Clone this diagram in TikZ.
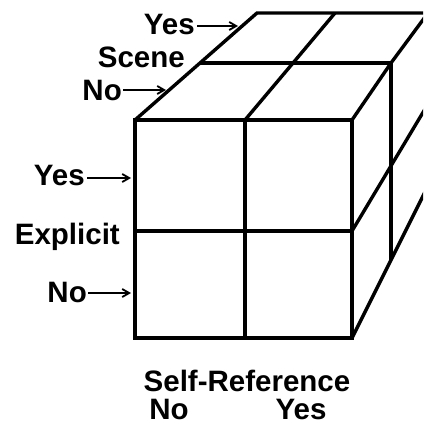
\documentclass[tikz,border=0pt]{standalone}
\usepackage{fontspec}
\setmainfont{Liberation Sans}[BoldFont={Liberation Sans Bold}]
\usetikzlibrary{arrows.meta}
\begin{document}
\begin{tikzpicture}[x=1pt,y=-1pt,
  edge/.style={line width=3.4pt},
  lbl/.style={font=\bfseries\fontsize{29.5}{32}\selectfont, inner sep=0pt},
  pointer/.style={line width=1.8pt,-{Straight Barb[length=7pt,width=8pt,line width=1.8pt]}}]
\useasboundingbox (0,0) rectangle (423,425);
\clip (0,0) rectangle (423,425);
% front face corners
\coordinate (FTL) at (135,120);
\coordinate (FTM) at (245,120);
\coordinate (FTR) at (352,120);
\coordinate (FML) at (135,231);
\coordinate (FMR) at (352,231);
\coordinate (FBL) at (135,338);
\coordinate (FBM) at (245,338);
\coordinate (FBR) at (352,338);
% mid depth
\coordinate (MTL) at (200,63);
\coordinate (MTM) at (293,63);
\coordinate (MTR) at (391,63);
\coordinate (MBR) at (391,260);
% back
\coordinate (BTL) at (257,13);
\coordinate (BTM) at (335,13);
\coordinate (BTR) at (428,13);
\coordinate (BTX) at (440,13);
\coordinate (BMX) at (440,84);
\coordinate (BBX) at (440,162);
% front face
\draw[edge] (FTL) rectangle (FBR);
\draw[edge] (FTM) -- (FBM);
\draw[edge] (FML) -- (FMR);
% top face
\draw[edge] (FTL) -- (BTL) -- (BTX);
\draw[edge] (MTL) -- (MTR);
\draw[edge] (FTM) -- (MTM) -- (BTM);
\draw[edge] (FTR) -- (MTR) -- (BTR);
% right face
\draw[edge] (MTR) -- (MBR);
\draw[edge] (FMR) -- (BMX);
\draw[edge] (FBR) -- (MBR) -- (BBX);
% labels
\node[lbl, anchor=base east] (sy) at (195,35) {Yes};
\node[lbl, anchor=base east] (sc) at (185,68) {Scene};
\node[lbl, anchor=base east] (sn) at (122,101) {No};
\node[lbl, anchor=base east] (ey) at (85,185) {Yes};
\node[lbl, anchor=base east] (ex) at (120,244) {Explicit};
\node[lbl, anchor=base east] (en) at (87,302) {No};
\node[lbl, anchor=base, text depth=0pt] (sr) at (247,391) {Self-Reference};
\node[lbl, anchor=base, text depth=0pt] (rn) at (169,419) {No};
\node[lbl, anchor=base, text depth=0pt] (ry) at (301,419) {Yes};
% pointer targets
\coordinate (tsy) at (238,26);
\coordinate (tsn) at (166,90);
\coordinate (tey) at (131,178);
\coordinate (ten) at (131,293);
\draw[pointer] (sy.east |- tsy) ++(2,0) -- (tsy);
\draw[pointer] (sn.east |- tsn) ++(1,0) -- (tsn);
\draw[pointer] (ey.east |- tey) ++(2,0) -- (tey);
\draw[pointer] (en.east |- ten) ++(1,0) -- (ten);
\end{tikzpicture}
\end{document}
